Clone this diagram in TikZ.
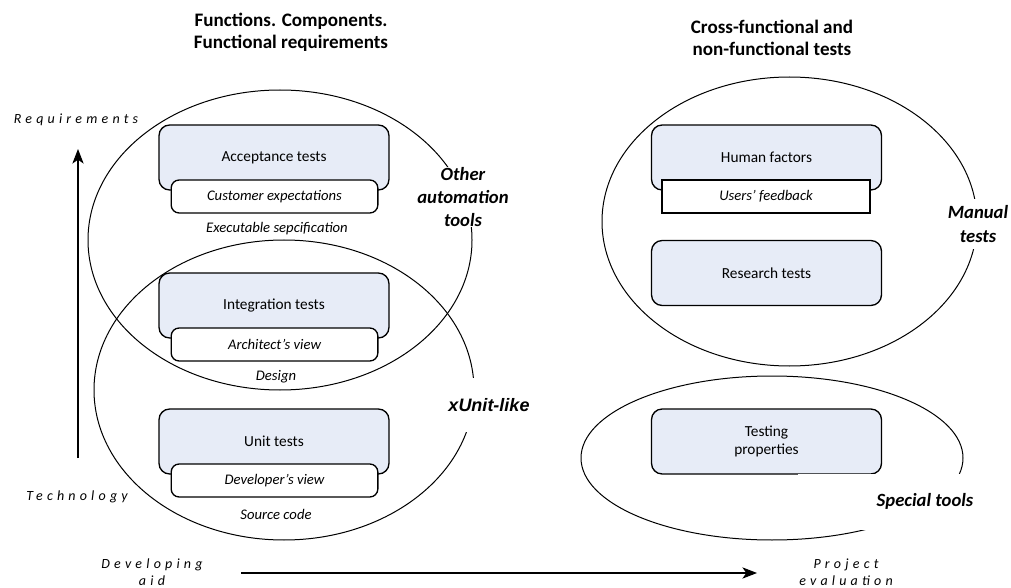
\documentclass[tikz,border=0pt]{standalone}
\usepackage{fontspec}
\setmainfont{Carlito}
\newfontfamily\arialfont{Liberation Sans}
\newfontfamily\spacedfont[LetterSpace=30]{Carlito}
\usetikzlibrary{arrows.meta}
\definecolor{boxblue}{RGB}{231,236,247}
\tikzset{
  area/.style={draw, line width=0.75pt},
  testbox/.style={draw, line width=1pt, rounded corners=8pt, fill=boxblue,
    minimum width=172.5pt, minimum height=48.75pt, align=center,
    font=\fontsize{11.5}{14}\selectfont},
  viewbox/.style={draw, line width=1pt, rounded corners=6pt, fill=white,
    minimum width=155pt, minimum height=24.75pt,
    font=\fontsize{11}{13}\selectfont\itshape},
  feedbackbox/.style={viewbox, sharp corners, minimum width=156pt},
  caption/.style={font=\fontsize{11}{13}\selectfont\itshape},
  toollabel/.style={fill=white, inner sep=0pt, align=center,
    font=\fontsize{14}{17.25}\selectfont\bfseries\itshape},
  axislabel/.style={align=center, font=\spacedfont\fontsize{10.5}{12.75}\selectfont\itshape},
  grouptitle/.style={align=center, font=\fontsize{14.3}{16.5}\selectfont\bfseries},
  axisarrow/.style={line width=0.8pt, -{Stealth[length=11pt, width=8.5pt, inset=3pt]}},
}
\begin{document}
\begin{tikzpicture}[x=0.75pt, y=-0.75pt]
    \useasboundingbox (0,0) rectangle (1011,588);

    % Group titles
    \node[grouptitle] (funcTitle) at (291,32.5) {Functions. Components.\\Functional requirements};
    \node[grouptitle] (crossTitle) at (772,37.5) {Cross-functional and\\non-functional tests};

    % Tool areas
    \draw[area] (280,240) ellipse [x radius=192, y radius=150]; % other automation tools
    \draw[area] (284,390) ellipse [x radius=190, y radius=150]; % xUnit-like
    \draw[area] (789.5,221.5) ellipse [x radius=187.5, y radius=144.5]; % manual tests
    \draw[area] (772,458) ellipse [x radius=191, y radius=82]; % special tools

    % Functional tests
    \node[testbox] (acceptance) at (274,157.5) {Acceptance tests};
    \node[viewbox] (customer) at (274.5,196.5) {Customer expectations};
    \node[caption] (execSpec) at (277,229) {Executable sepcification};

    \node[testbox] (integration) at (274,305.5) {Integration tests};
    \node[viewbox] (architect) at (274.5,344.5) {Architect’s view};
    \node[caption] (design) at (276,377) {Design};

    \node[testbox] (unit) at (274,441.5) {Unit tests};
    \node[viewbox] (developer) at (274.5,480.5) {Developer’s view};
    \node[caption] (source) at (276,514) {Source code};

    % Non-functional tests
    \node[testbox] (human) at (766.5,157.5) {Human factors};
    \node[feedbackbox] (feedback) at (766,196.5) {Users’ feedback};
    \node[testbox] (research) at (766.5,273) {Research tests};
    \node[testbox] (properties) at (766.5,441.5) {Testing\\properties};

    % Tool labels (white boxes cut the ellipses)
    \node[toollabel] (otherTools) at (463,197) {Other\\automation\\tools};
    \node[toollabel, font=\arialfont\fontsize{13.5}{16}\selectfont\bfseries\itshape,
      minimum height=41pt] (xunit) at (489,405) {xUnit-like};
    \node[toollabel, inner ysep=4.5pt, font=\fontsize{14}{18}\selectfont\bfseries\itshape]
      (manual) at (978,224) {Manual\\tests};
    \node[toollabel, minimum width=190pt, minimum height=42pt] (special) at (925,501.5) {Special tools};

    % Axes
    \node[axislabel] (reqLabel) at (76,120) {Requirements};
    \node[axislabel] (techLabel) at (77,497) {Technology};
    \node[axislabel] (devLabel) at (152,572) {Developing\\aid};
    \node[axislabel] (projLabel) at (846,572) {Project\\evaluation};

    \coordinate (techEnd) at (78,458);
    \coordinate (reqEnd) at (78,149);
    \coordinate (devEnd) at (241,573);
    \coordinate (projEnd) at (757,573);
    \draw[axisarrow] (techEnd) -- (reqEnd);
    \draw[axisarrow] (devEnd) -- (projEnd);

\end{tikzpicture}
\end{document}
